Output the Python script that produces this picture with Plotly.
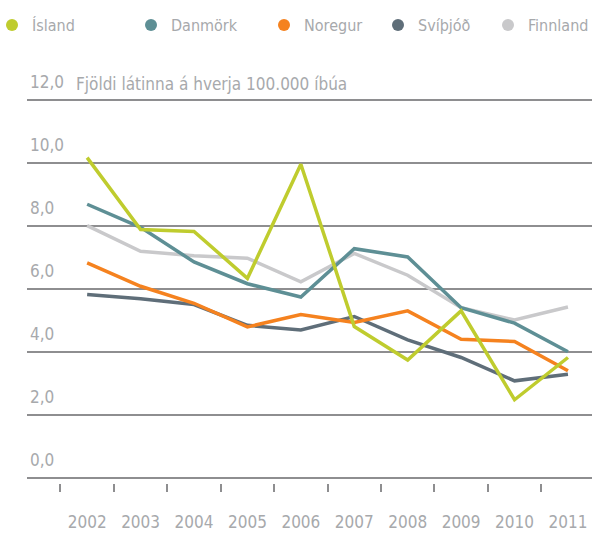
import plotly.graph_objects as go

years = [2002, 2003, 2004, 2005, 2006, 2007, 2008, 2009, 2010, 2011]

island = [10.16, 7.88, 7.82, 6.33, 9.95, 4.80, 3.74, 5.30, 2.48, 3.82]
danmork = [8.68, 7.95, 6.85, 6.16, 5.74, 7.27, 7.01, 5.40, 4.91, 4.00]
noregur = [6.82, 6.08, 5.54, 4.79, 5.18, 4.93, 5.30, 4.40, 4.33, 3.40]
svithjod = [5.82, 5.68, 5.50, 4.84, 4.69, 5.12, 4.38, 3.82, 3.08, 3.29]
finnland = [8.00, 7.19, 7.05, 6.97, 6.22, 7.12, 6.43, 5.40, 5.01, 5.42]

y_ticks = [0, 2, 4, 6, 8, 10, 12]
y_labels = ["0,0", "2,0", "4,0", "6,0", "8,0", "10,0", "12,0"]

TEXT = "#a7a9ac"
GRID = "#8e8e90"
FONT = "'DejaVu Sans Condensed', sans-serif"


def txt(size=17):
    return dict(family=FONT, size=size, color=TEXT)


series = [
    ("Ísland", island, "#bfcc2e"),
    ("Danmörk", danmork, "#5e8f95"),
    ("Noregur", noregur, "#f5821f"),
    ("Svíþjóð", svithjod, "#5f6e79"),
    ("Finnland", finnland, "#c9c9cb"),
]
# marker centre of each legend entry, in page pixels
legend_dot = [12, 151, 284, 398, 508]
legend_ids = ["legend", "legend2", "legend3", "legend4", "legend5"]

fig = go.Figure()

# legend entries (dots), one small legend each so they can be spaced freely
for (name, _, color), lid in zip(series, legend_ids):
    fig.add_trace(
        go.Scatter(
            x=[None],
            y=[None],
            mode="markers",
            name=name,
            legend=lid,
            marker=dict(color=color, size=14),
        )
    )

# lines, drawn so that Ísland ends up on top
for name, vals, color in reversed(series):
    fig.add_trace(
        go.Scatter(
            x=years,
            y=vals,
            mode="lines",
            name=name,
            showlegend=False,
            line=dict(color=color, width=3.5),
        )
    )

fig.update_layout(
    width=592,
    height=533,
    margin=dict(l=27, r=0, t=98, b=50, autoexpand=False),
    paper_bgcolor="white",
    plot_bgcolor="white",
    font=txt(),
    showlegend=True,
)
for lid, dot in zip(legend_ids, legend_dot):
    fig.update_layout(
        {
            lid: dict(
                orientation="h",
                xref="paper",
                yref="container",
                x=(dot - 20 - 27) / 565,
                y=1 - 25 / 533,
                xanchor="left",
                yanchor="middle",
                bgcolor="rgba(0,0,0,0)",
                font=txt(16),
                itemsizing="constant",
            )
        }
    )

fig.update_xaxes(
    range=[2000.874, 2011.45],
    tickvals=years,
    ticktext=[str(y) for y in years],
    ticks="outside",
    ticklen=24,
    tickcolor="rgba(0,0,0,0)",
    showgrid=False,
    showline=False,
    zeroline=False,
    automargin=False,
    tickfont=txt(),
    minor=dict(
        tick0=2001.5,
        dtick=1,
        ticks="outside",
        ticklen=8,
        tickwidth=1.5,
        tickcolor=GRID,
        showgrid=False,
    ),
)

fig.update_yaxes(
    range=[-0.16, 12.05],
    tickvals=y_ticks,
    ticktext=y_labels,
    ticklabelposition="inside top",
    ticklabeloverflow="allow",
    ticklabelstandoff=0,
    ticklabelshift=-6,
    showgrid=True,
    gridcolor=GRID,
    gridwidth=1.5,
    zeroline=False,
    showline=False,
    automargin=False,
    tickfont=txt(),
)

fig.add_annotation(
    text="Fjöldi látinna á hverja 100.000 íbúa",
    xref="paper",
    yref="y",
    x=0.083,
    y=12,
    yshift=16,
    xanchor="left",
    yanchor="middle",
    showarrow=False,
    font=txt(),
)

fig.write_html(
    "out.html",
    config={"displayModeBar": False},
    post_script="document.body.style.margin = '0';",
)
